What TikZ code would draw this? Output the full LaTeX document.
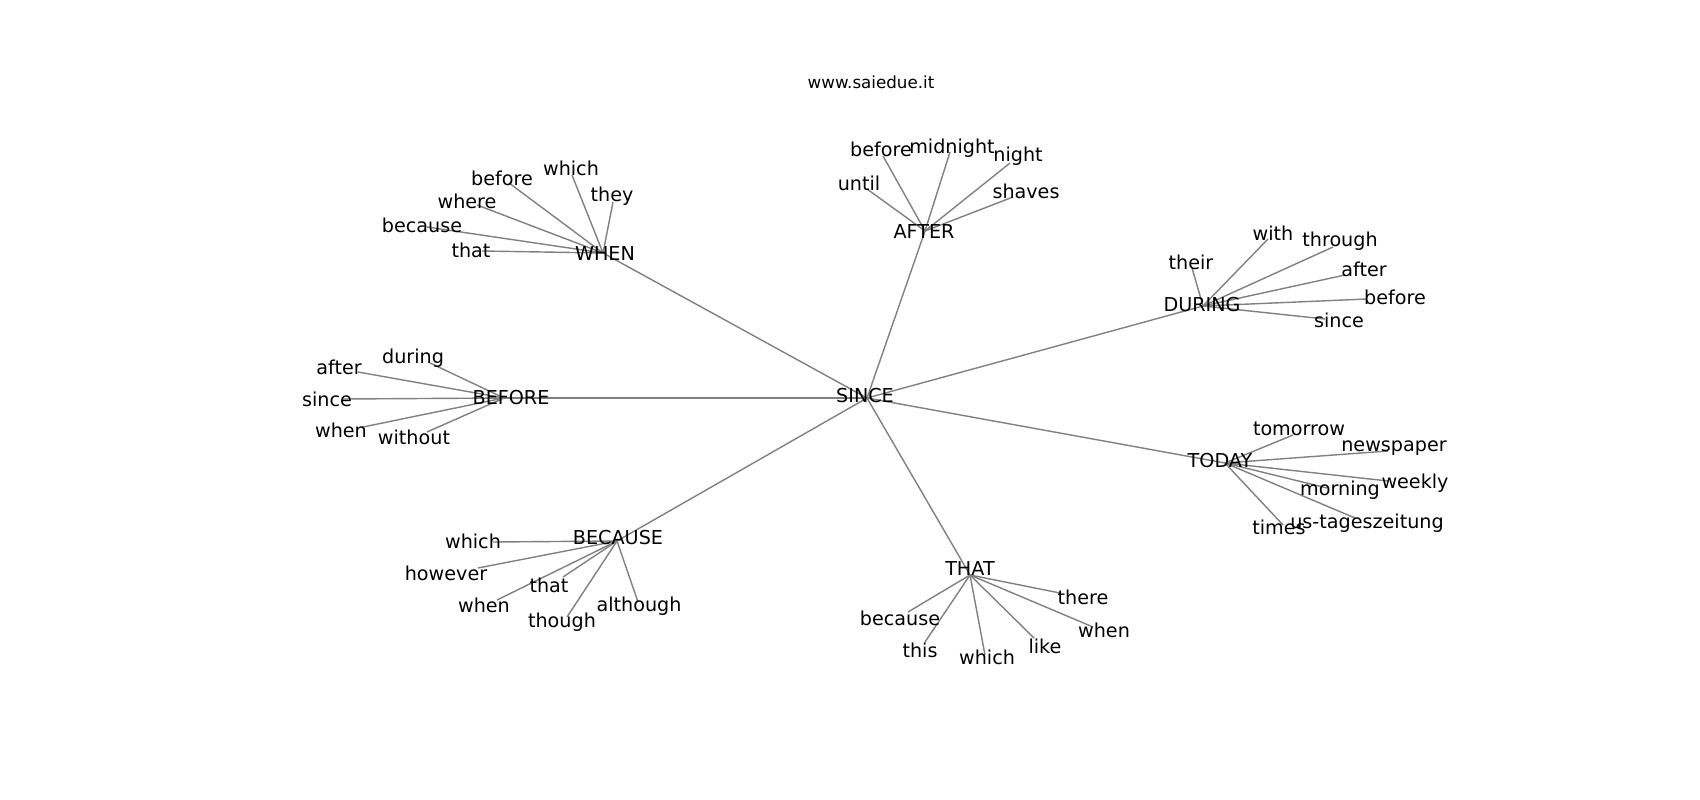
\documentclass[tikz,border=0pt]{standalone}
\usepackage{fontspec}
\setmainfont{DejaVu Sans}
\tikzset{
  word/.style={inner sep=0pt, font=\fontsize{5.45}{6.5}\selectfont},
  site/.style={inner sep=0pt, font=\fontsize{4.75}{5.5}\selectfont},
  link/.style={gray, line width=0.4pt},
}
\begin{document}
\begin{tikzpicture}[x=0.01cm, y=-0.01cm]
\useasboundingbox (0,0) rectangle (1700,800);

% hubs
\coordinate (since) at (867,398);
\coordinate (when) at (603,253);
\coordinate (after) at (925,231);
\coordinate (during) at (1203,306);
\coordinate (before) at (504,398);
\coordinate (today) at (1225,463);
\coordinate (because) at (617,541);
\coordinate (that) at (970,575);

% leaf ends
\coordinate (wwhich) at (572,175);
\coordinate (wthey) at (613,202);
\coordinate (wbefore) at (509,183);
\coordinate (wwhere) at (477,205);
\coordinate (wbecause) at (427,227);
\coordinate (wthat) at (482,251);

\coordinate (abefore) at (883,156);
\coordinate (amidnight) at (950,152);
\coordinate (anight) at (1010,163);
\coordinate (auntil) at (867,189);
\coordinate (ashaves) at (1013,197);

\coordinate (dtheir) at (1192,268);
\coordinate (dwith) at (1268,239);
\coordinate (dthrough) at (1333,247);
\coordinate (dafter) at (1345,275);
\coordinate (dbefore) at (1367,299);
\coordinate (dsince) at (1325,319);

\coordinate (bduring) at (430,363);
\coordinate (bafter) at (358,372);
\coordinate (bsince) at (343,399);
\coordinate (bwhen) at (363,427);
\coordinate (bwithout) at (427,432);

\coordinate (ttomorrow) at (1293,435);
\coordinate (tnewspaper) at (1388,451);
\coordinate (tweekly) at (1388,481);
\coordinate (tmorning) at (1327,488);
\coordinate (tus) at (1355,518);
\coordinate (ttimes) at (1283,525);

\coordinate (cwhich) at (493,542);
\coordinate (chowever) at (478,568);
\coordinate (cthat) at (563,577);
\coordinate (cwhen) at (497,600);
\coordinate (cthough) at (567,617);
\coordinate (calthough) at (638,602);

\coordinate (hthere) at (1060,593);
\coordinate (hwhen) at (1093,627);
\coordinate (hlike) at (1034,638);
\coordinate (hwhich) at (985,655);
\coordinate (hthis) at (925,642);
\coordinate (hbecause) at (908,612);

\foreach \a/\b in {since/when, since/after, since/during, since/before, since/today, since/because, since/that,
    when/wwhich, when/wthey, when/wbefore, when/wwhere, when/wbecause, when/wthat,
    after/abefore, after/amidnight, after/anight, after/auntil, after/ashaves,
    during/dtheir, during/dwith, during/dthrough, during/dafter, during/dbefore, during/dsince,
    before/bduring, before/bafter, before/bsince, before/bwhen, before/bwithout,
    today/ttomorrow, today/tnewspaper, today/tweekly, today/tmorning, today/tus, today/ttimes,
    because/cwhich, because/chowever, because/cthat, because/cwhen, because/cthough, because/calthough,
    that/hthere, that/hwhen, that/hlike, that/hwhich, that/hthis, that/hbecause}
  \draw[link] (\a) -- (\b);

\node[site] (title) at (871,82) {www.saiedue.it};

\node[word] (since-l) at (865,396) {SINCE};
\node[word] (when-l) at (605,254) {WHEN};
\node[word] (after-l) at (924,232) {AFTER};
\node[word] (during-l) at (1202,305) {DURING};
\node[word] (before-l) at (511,398) {BEFORE};
\node[word] (today-l) at (1220,461) {TODAY};
\node[word] (because-l) at (618,538) {BECAUSE};
\node[word] (that-l) at (970,569) {THAT};

\node[word] (wwhich-l) at (571,168) {which};
\node[word] (wthey-l) at (612,196) {they};
\node[word] (wbefore-l) at (502,178) {before};
\node[word] (wwhere-l) at (467,201) {where};
\node[word] (wbecause-l) at (422,225) {because};
\node[word] (wthat-l) at (471,250) {that};

\node[word] (abefore-l) at (881,149) {before};
\node[word] (amidnight-l) at (952,148) {midnight};
\node[word] (anight-l) at (1018,156) {night};
\node[word] (auntil-l) at (859,183) {until};
\node[word] (ashaves-l) at (1026,191) {shaves};

\node[word] (dtheir-l) at (1191,262) {their};
\node[word] (dwith-l) at (1273,233) {with};
\node[word] (dthrough-l) at (1340,241) {through};
\node[word] (dafter-l) at (1364,269) {after};
\node[word] (dbefore-l) at (1395,297) {before};
\node[word] (dsince-l) at (1339,320) {since};

\node[word] (bduring-l) at (413,358) {during};
\node[word] (bafter-l) at (339,367) {after};
\node[word] (bsince-l) at (327,399) {since};
\node[word] (bwhen-l) at (341,430) {when};
\node[word] (bwithout-l) at (414,437) {without};

\node[word] (ttomorrow-l) at (1299,429) {tomorrow};
\node[word] (tnewspaper-l) at (1394,448) {newspaper};
\node[word] (tweekly-l) at (1415,483) {weekly};
\node[word] (tmorning-l) at (1340,490) {morning};
\node[word] (tus-l) at (1367,523) {us-tageszeitung};
\node[word] (ttimes-l) at (1279,527) {times};

\node[word] (cwhich-l) at (473,541) {which};
\node[word] (chowever-l) at (446,573) {however};
\node[word] (cthat-l) at (549,585) {that};
\node[word] (cwhen-l) at (484,605) {when};
\node[word] (cthough-l) at (562,622) {though};
\node[word] (calthough-l) at (639,606) {although};

\node[word] (hthere-l) at (1083,597) {there};
\node[word] (hwhen-l) at (1104,630) {when};
\node[word] (hlike-l) at (1045,646) {like};
\node[word] (hwhich-l) at (987,657) {which};
\node[word] (hthis-l) at (920,650) {this};
\node[word] (hbecause-l) at (900,618) {because};
\end{tikzpicture}
\end{document}
